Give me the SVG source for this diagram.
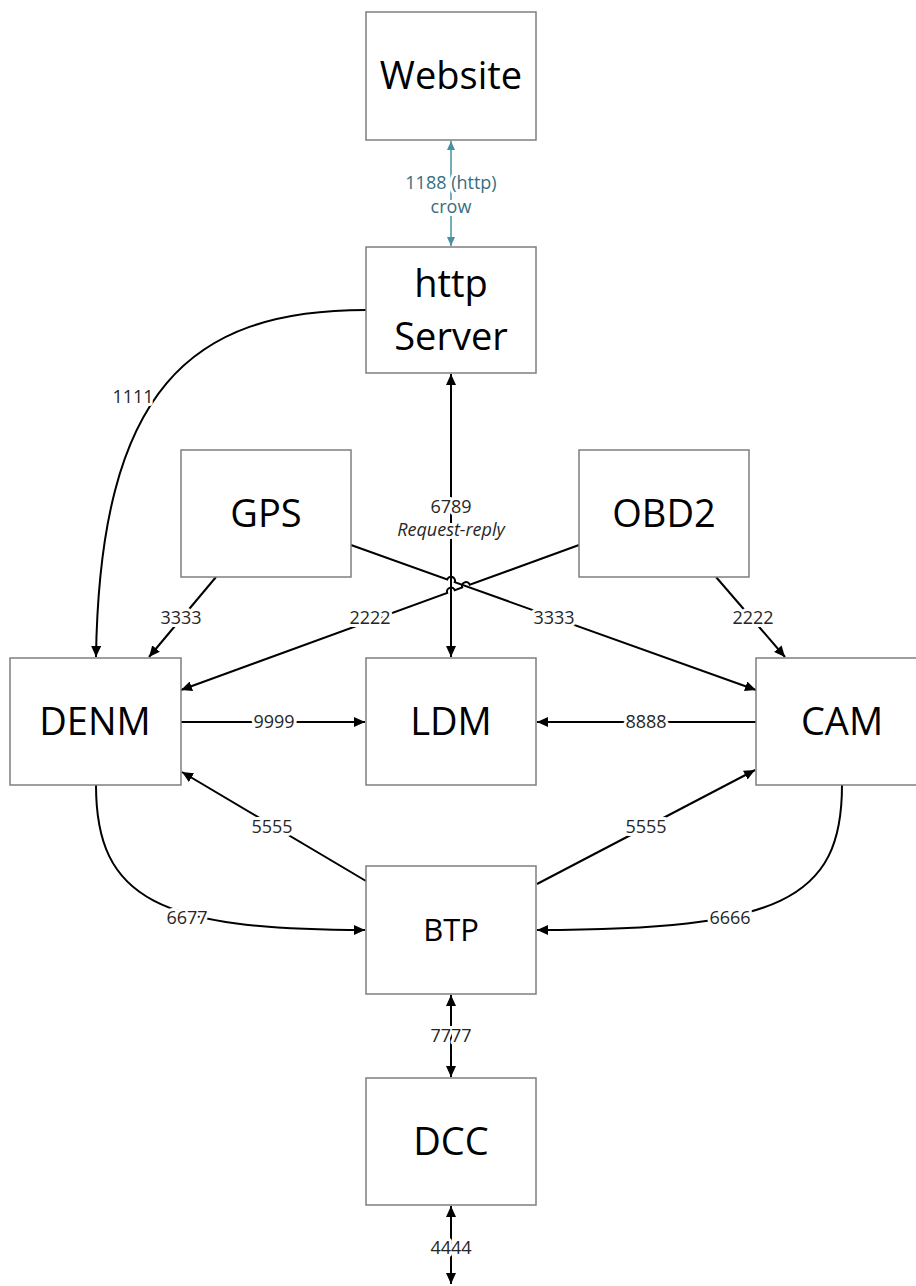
<svg xmlns="http://www.w3.org/2000/svg" width="916" height="1286" viewBox="0 0 916 1286">
<style>
.box{fill:#fff;stroke:#7f7f7f;stroke-width:1.5}
.nt{font-family:"Open Sans",sans-serif;font-size:38px;fill:#000;text-anchor:middle}
.ln{fill:none;stroke:#000;stroke-width:2}
.tl{fill:none;stroke:#4a90a4;stroke-width:1.5}
.lbl{font-family:"Open Sans",sans-serif;font-size:18px;fill:#262626;text-anchor:middle;paint-order:stroke;stroke:#fff;stroke-width:6px;stroke-linejoin:round}
</style>
<defs>
<marker id="a" markerUnits="userSpaceOnUse" markerWidth="12" markerHeight="10" refX="11" refY="5" orient="auto-start-reverse"><path d="M0,0 L11,5 L0,10 z" fill="#000"/></marker>
<marker id="t" markerUnits="userSpaceOnUse" markerWidth="9" markerHeight="8" refX="9" refY="4" orient="auto-start-reverse"><path d="M0,0 L9,4 L0,8 z" fill="#4a90a4"/></marker>
</defs>
<g id="connectors">
<line class="tl" x1="451" y1="141" x2="451" y2="246" marker-start="url(#t)" marker-end="url(#t)"/>
<path class="ln" d="M366,310 C190,310 100,390 96,657" marker-end="url(#a)"/>
<line class="ln" x1="451" y1="374" x2="451" y2="657" marker-start="url(#a)" marker-end="url(#a)"/>
<path class="ln" d="M216,577 L149,657" marker-end="url(#a)"/>
<path class="ln" d="M351,545 L447.23,579.45 A4,4 0 0 1 454.77,582.15 L756,690" marker-end="url(#a)"/>
<path class="ln" d="M579,545 L469.76,584.73 A4,4 0 0 0 462.24,587.47 L454.76,590.23 A4,4 0 0 0 447.24,592.97 L181,690" marker-end="url(#a)"/>
<path class="ln" d="M716,577 L785,657" marker-end="url(#a)"/>
<line class="ln" x1="181" y1="722" x2="365" y2="722" marker-end="url(#a)"/>
<line class="ln" x1="756" y1="722" x2="537" y2="722" marker-end="url(#a)"/>
<line class="ln" x1="366" y1="881" x2="182" y2="772" marker-end="url(#a)"/>
<line class="ln" x1="537" y1="884" x2="755" y2="770" marker-end="url(#a)"/>
<path class="ln" d="M96,785 C96,900 160,930 365,930" marker-end="url(#a)"/>
<path class="ln" d="M842,785 C842,900 780,930 537,930" marker-end="url(#a)"/>
<line class="ln" x1="451" y1="995" x2="451" y2="1077" marker-start="url(#a)" marker-end="url(#a)"/>
<line class="ln" x1="451" y1="1206" x2="451" y2="1284" marker-start="url(#a)" marker-end="url(#a)"/>
</g>
<g id="labels">
<text class="lbl" x="451" y="189" style="fill:#366f80">1188 (http)</text>
<text class="lbl" x="451" y="213" style="fill:#366f80">crow</text>
<text class="lbl" x="133" y="403">1111</text>
<text class="lbl" x="451" y="513">6789</text>
<text class="lbl" x="451" y="536" font-style="italic">Request-reply</text>
<text class="lbl" x="181" y="624">3333</text>
<text class="lbl" x="370" y="624">2222</text>
<text class="lbl" x="554" y="624">3333</text>
<text class="lbl" x="753" y="624">2222</text>
<text class="lbl" x="274" y="728">9999</text>
<text class="lbl" x="646" y="728">8888</text>
<text class="lbl" x="272" y="833">5555</text>
<text class="lbl" x="646" y="833">5555</text>
<text class="lbl" x="187" y="924">6677</text>
<text class="lbl" x="730" y="924">6666</text>
<text class="lbl" x="451" y="1042">7777</text>
<text class="lbl" x="451" y="1254">4444</text>
</g>
<g id="website"><rect class="box" x="366" y="12" width="170" height="128"/><text class="nt" x="451" y="89">Website</text></g>
<g id="httpserver"><rect class="box" x="366" y="247" width="170" height="126"/><text class="nt" x="451" y="297">http</text><text class="nt" x="451" y="350">Server</text></g>
<g id="gps"><rect class="box" x="181" y="450" width="170" height="127"/><text class="nt" x="266" y="527">GPS</text></g>
<g id="obd2"><rect class="box" x="579" y="450" width="170" height="127"/><text class="nt" x="664" y="527">OBD2</text></g>
<g id="denm"><rect class="box" x="10" y="658" width="171" height="127"/><text class="nt" x="95" y="735">DENM</text></g>
<g id="ldm"><rect class="box" x="366" y="658" width="170" height="127"/><text class="nt" x="451" y="735">LDM</text></g>
<g id="cam"><rect class="box" x="756" y="658" width="170" height="127"/><text class="nt" x="842" y="735">CAM</text></g>
<g id="btp"><rect class="box" x="366" y="866" width="170" height="128"/><text class="nt" x="451" y="941" style="font-size:31px">BTP</text></g>
<g id="dcc"><rect class="box" x="366" y="1078" width="170" height="127"/><text class="nt" x="451" y="1155">DCC</text></g>
</svg>
